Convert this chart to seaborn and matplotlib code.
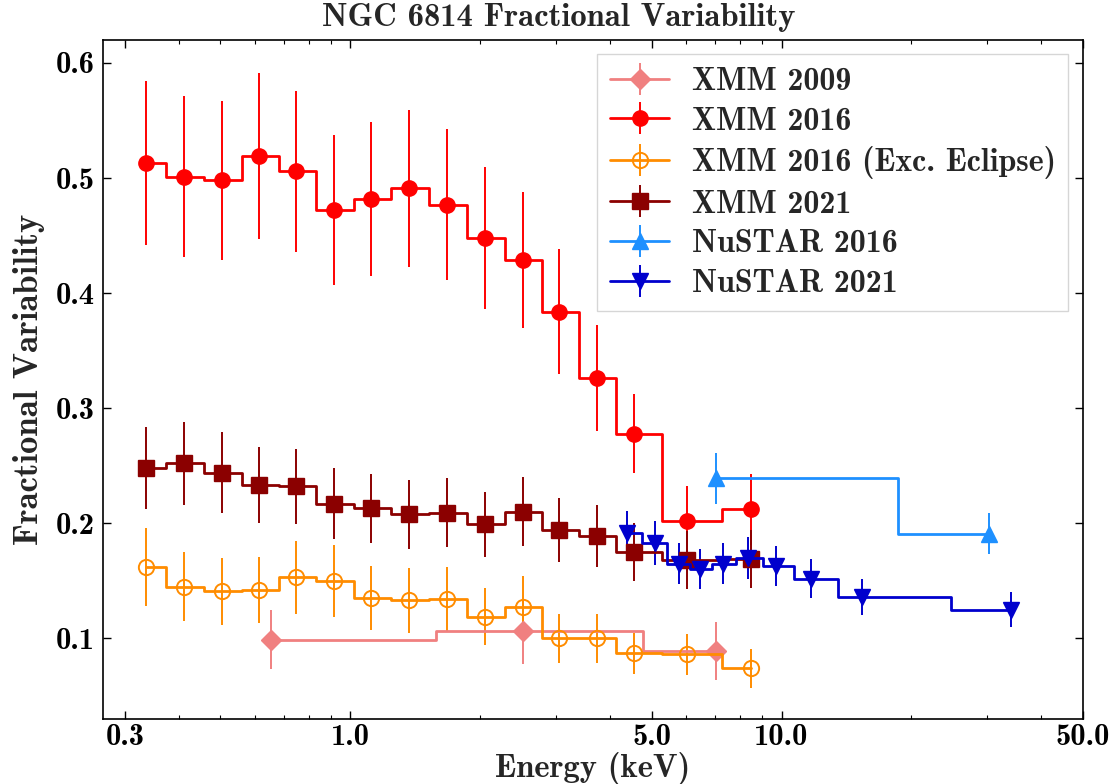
import numpy as np
import matplotlib
matplotlib.use("Agg")
import matplotlib.pyplot as plt
from matplotlib.ticker import FixedLocator, FixedFormatter, LogLocator, NullFormatter
import seaborn as sns

# XMM bins shared by the 2016 and 2021 pn spectra (keV)
xmm_energy = [0.336, 0.411, 0.504, 0.615, 0.750, 0.918, 1.118, 1.37, 1.68, 2.05,
              2.51, 3.05, 3.74, 4.54, 6.02, 8.50]

xmm2009_energy = [0.654, 2.51, 7.05]
xmm2009_fvar = [0.099, 0.106, 0.089]
xmm2009_err = [0.026, 0.028, 0.025]

xmm2016_fvar = [0.513, 0.501, 0.498, 0.519, 0.506, 0.472, 0.482, 0.491, 0.477, 0.448,
                0.429, 0.384, 0.326, 0.278, 0.202, 0.212]
xmm2016_err = [0.071, 0.070, 0.069, 0.072, 0.070, 0.065, 0.067, 0.068, 0.066, 0.062,
               0.059, 0.054, 0.046, 0.034, 0.030, 0.031]

xmm2016ex_fvar = [0.162, 0.145, 0.141, 0.142, 0.153, 0.150, 0.135, 0.133, 0.134, 0.119,
                  0.127, 0.100, 0.100, 0.087, 0.086, 0.074]
xmm2016ex_err = [0.034, 0.030, 0.029, 0.029, 0.032, 0.031, 0.028, 0.028, 0.028, 0.025,
                 0.027, 0.021, 0.021, 0.018, 0.018, 0.017]

xmm2021_fvar = [0.248, 0.252, 0.244, 0.233, 0.232, 0.217, 0.213, 0.208, 0.209, 0.199,
                0.210, 0.194, 0.189, 0.175, 0.168, 0.169]
xmm2021_err = [0.036, 0.036, 0.035, 0.033, 0.033, 0.031, 0.030, 0.030, 0.030, 0.028,
               0.030, 0.028, 0.027, 0.025, 0.025, 0.025]

nu2016_energy = [7.05, 30.2]
nu2016_fvar = [0.239, 0.191]
nu2016_err = [0.022, 0.018]

nu2021_energy = [4.38, 5.09, 5.78, 6.47, 7.32, 8.36, 9.71, 11.67, 15.36, 34.0]
nu2021_fvar = [0.192, 0.183, 0.165, 0.160, 0.165, 0.170, 0.163, 0.152, 0.136, 0.125]
nu2021_err = [0.019, 0.019, 0.018, 0.0175, 0.0175, 0.018, 0.0175, 0.017, 0.0155, 0.015]

x_ticks = [0.3, 1.0, 5.0, 10.0, 50.0]
x_tick_labels = ["0.3", "1.0", "5.0", "10.0", "50.0"]
y_ticks = [0.1, 0.2, 0.3, 0.4, 0.5, 0.6]

sns.set_theme(style="ticks")
plt.rcParams["font.family"] = ["cmb10", "DejaVu Serif"]
plt.rcParams["axes.unicode_minus"] = False
plt.rcParams["mathtext.fontset"] = "cm"

fig = plt.figure(figsize=(11.17, 7.84), dpi=100)
ax = fig.add_axes([0.0922, 0.083, 0.8774, 0.866])

series = [
    ("XMM 2009", xmm2009_energy, xmm2009_fvar, xmm2009_err,
     dict(color="lightcoral", marker="D", ms=10)),
    ("XMM 2016", xmm_energy, xmm2016_fvar, xmm2016_err,
     dict(color="red", marker="o", ms=11)),
    ("XMM 2016 (Exc. Eclipse)", xmm_energy, xmm2016ex_fvar, xmm2016ex_err,
     dict(color="darkorange", marker="o", ms=11, mfc="none", mew=1.4)),
    ("XMM 2021", xmm_energy, xmm2021_fvar, xmm2021_err,
     dict(color="darkred", marker="s", ms=11)),
    ("NuSTAR 2016", nu2016_energy, nu2016_fvar, nu2016_err,
     dict(color="dodgerblue", marker="^", ms=11)),
    ("NuSTAR 2021", nu2021_energy, nu2021_fvar, nu2021_err,
     dict(color="mediumblue", marker="v", ms=11)),
]

for label, x, y, e, style in series:
    ax.errorbar(x, y, yerr=e, drawstyle="steps-mid", lw=2.0, elinewidth=1.4,
                capsize=0, label=label, **style)

ax.set_xscale("log")
ax.set_xlim(0.267, 50)
ax.set_ylim(0.03, 0.62)

ax.xaxis.set_major_locator(FixedLocator(x_ticks))
ax.xaxis.set_major_formatter(FixedFormatter(x_tick_labels))
ax.xaxis.set_minor_locator(LogLocator(base=10, subs=np.arange(2, 10)))
ax.xaxis.set_minor_formatter(NullFormatter())
ax.yaxis.set_major_locator(FixedLocator(y_ticks))
ax.set_yticklabels([f"{v:.1f}" for v in y_ticks])

ax.tick_params(which="both", direction="in", top=True, right=True,
               labelsize=22, colors="black")
ax.tick_params(which="major", length=6, width=1.0, pad=6)
ax.tick_params(axis="x", which="major", pad=4)
ax.tick_params(which="minor", length=3, width=0.8)
for sp in ax.spines.values():
    sp.set_linewidth(1.2)
    sp.set_color("black")

ax.set_xlabel("Energy (keV)", fontsize=23.5)
ax.xaxis.set_label_coords(0.5, -0.049)
ax.set_ylabel("Fractional Variability", fontsize=25, labelpad=8)
fig.suptitle("NGC 6814 Fractional Variability", fontsize=23.5, x=0.5, y=0.996,
             va="top")

leg = ax.legend(loc="upper right", fontsize=23, frameon=True, fancybox=False,
                edgecolor="#cccccc", borderpad=0.4, labelspacing=0.33,
                handlelength=1.85, handletextpad=0.7, borderaxespad=0,
                bbox_to_anchor=(0.985, 0.979))
leg.get_frame().set_linewidth(1.0)

fig.savefig("out.png", dpi=100)
